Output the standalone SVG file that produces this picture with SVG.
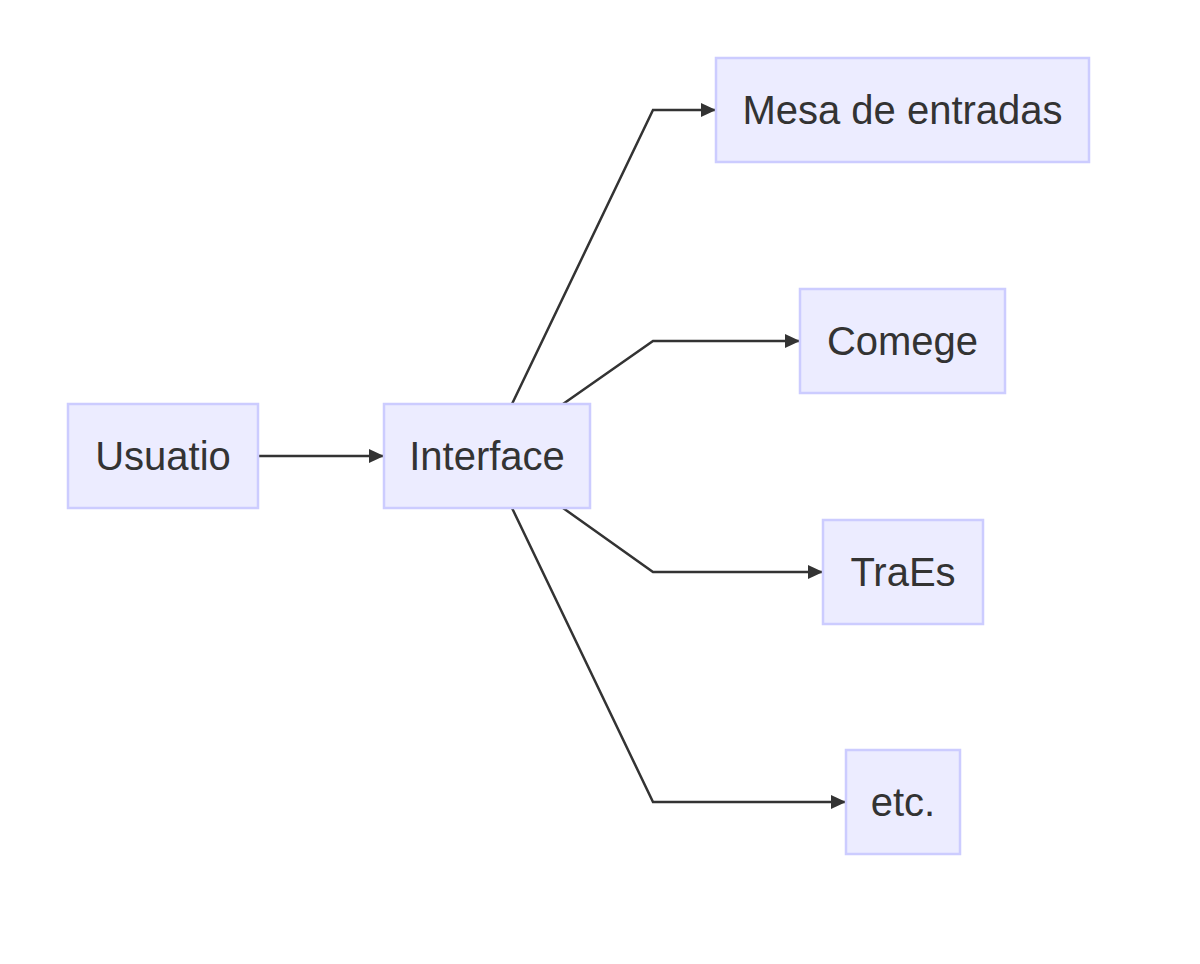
<svg xmlns="http://www.w3.org/2000/svg" width="1200" height="964" viewBox="0 0 1200 964">
<defs>
<style>
.node rect{fill:#ECECFF;stroke:#CCCCFF;stroke-width:2.5}
.node text{font-family:"Liberation Sans",Arial,sans-serif;font-size:40px;fill:#333333;text-anchor:middle}
.edge{fill:none;stroke:#333333;stroke-width:2.5}
</style>
<marker id="arrow" viewBox="0 0 10 10" refX="10" refY="5" markerWidth="15" markerHeight="14" markerUnits="userSpaceOnUse" orient="auto" preserveAspectRatio="none">
<path d="M0,0 L10,5 L0,10 z" fill="#333333"/>
</marker>
</defs>
<rect width="1200" height="964" fill="#ffffff"/>
<g id="edges">
<path class="edge" d="M258,456 L384,456" marker-end="url(#arrow)"/>
<path class="edge" d="M512,404 L653,110 L716,110" marker-end="url(#arrow)"/>
<path class="edge" d="M563,404 L653,341 L800,341" marker-end="url(#arrow)"/>
<path class="edge" d="M563,508 L653,572 L823,572" marker-end="url(#arrow)"/>
<path class="edge" d="M512,508 L653,802 L846,802" marker-end="url(#arrow)"/>
</g>
<g id="usuatio" class="node"><rect x="68" y="404" width="190" height="104"/><text x="163" y="470">Usuatio</text></g>
<g id="interface" class="node"><rect x="384" y="404" width="206" height="104"/><text x="487" y="470">Interface</text></g>
<g id="mesa" class="node"><rect x="716" y="58" width="373" height="104"/><text x="902.5" y="124">Mesa de entradas</text></g>
<g id="comege" class="node"><rect x="800" y="289" width="205" height="104"/><text x="902.5" y="355">Comege</text></g>
<g id="traes" class="node"><rect x="823" y="520" width="160" height="104"/><text x="903" y="586">TraEs</text></g>
<g id="etc" class="node"><rect x="846" y="750" width="114" height="104"/><text x="903" y="816">etc.</text></g>
</svg>
